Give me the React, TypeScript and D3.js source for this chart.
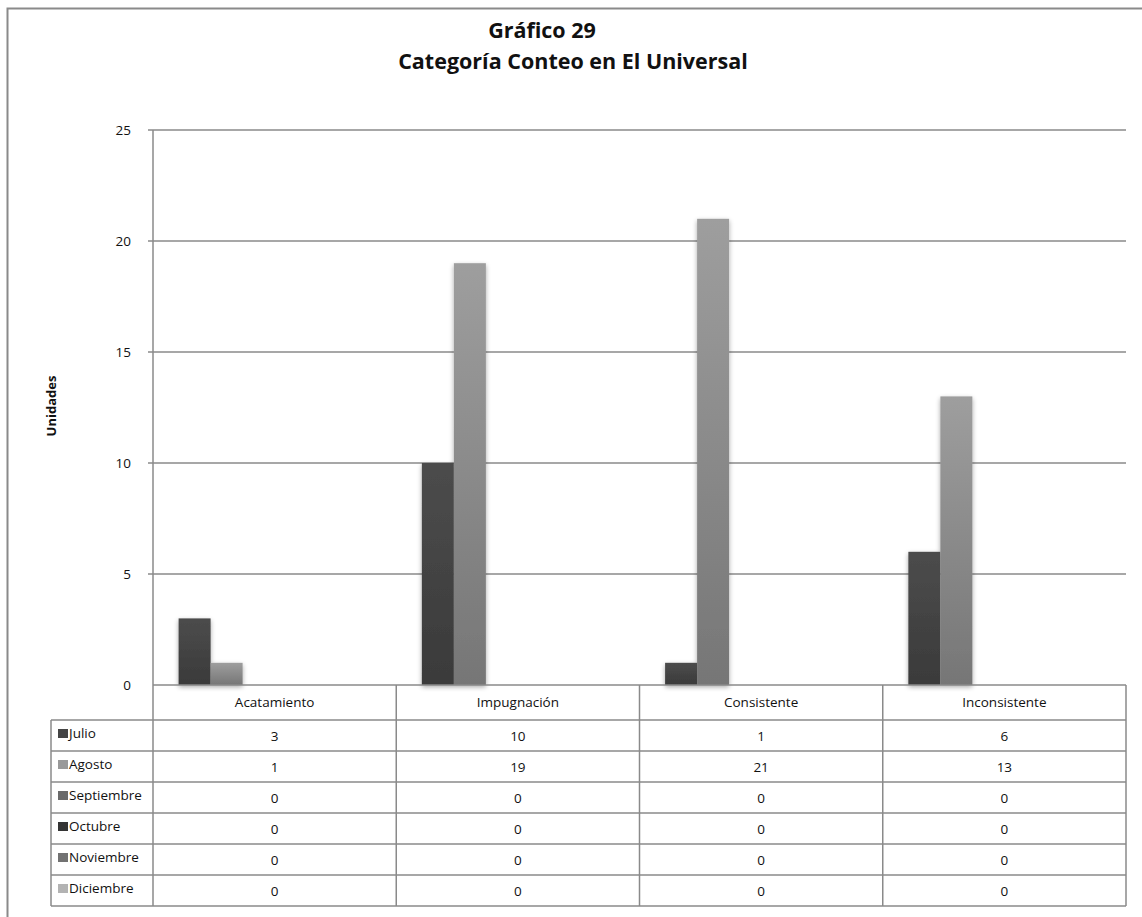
import React from "react";
import * as d3 from "d3";

const categories = ["Acatamiento", "Impugnación", "Consistente", "Inconsistente"];
const seriesNames = ["Julio", "Agosto", "Septiembre", "Octubre", "Noviembre", "Diciembre"];
const julio = [3, 10, 1, 6];
const agosto = [1, 19, 21, 13];
const septiembre = [0, 0, 0, 0];
const octubre = [0, 0, 0, 0];
const noviembre = [0, 0, 0, 0];
const diciembre = [0, 0, 0, 0];
const yTicks = [0, 5, 10, 15, 20, 25];

const seriesValues = [julio, agosto, septiembre, octubre, noviembre, diciembre];
const seriesColors = ["#444444", "#999999", "#6a6a6a", "#343434", "#727272", "#b3b3b3"];
const gradTop = ["#4c4c4c", "#9e9e9e", "#707070", "#3a3a3a", "#7a7a7a", "#bcbcbc"];
const gradBottom = ["#3a3a3a", "#767676", "#555555", "#2a2a2a", "#5e5e5e", "#999999"];

const W = 1142;
const H = 917;
const plot = { left: 153, right: 1126, top: 130, bottom: 685 };
const tableLeft = 51;
const headerH = 35;
const rowH = 31;
const font = "'Open Sans', 'Noto Sans', sans-serif";
const fs = 13.5;

export default function App() {
  const x = d3.scaleBand<string>().domain(categories).range([plot.left, plot.right]).padding(0);
  const y = d3.scaleLinear().domain([0, 25]).range([plot.bottom, plot.top]);
  const inner = d3
    .scaleBand<string>()
    .domain(seriesNames)
    .range([0, x.bandwidth()])
    .paddingInner(0)
    .paddingOuter(0.8);

  const tableBottom = plot.bottom + headerH + rowH * seriesNames.length;

  return (
    <svg width={W} height={H} style={{ position: "absolute", left: 0, top: 0 }}>
      <defs>
        {seriesNames.map((s, i) => (
          <linearGradient key={s} id={`g${i}`} x1="0" y1="0" x2="0" y2="1">
            <stop offset="0%" stopColor={gradTop[i]} />
            <stop offset="100%" stopColor={gradBottom[i]} />
          </linearGradient>
        ))}
        <filter id="shadow" x="-30%" y="-10%" width="160%" height="120%">
          <feGaussianBlur in="SourceAlpha" stdDeviation="2.5" />
          <feOffset dx="0" dy="2" result="b" />
          <feComponentTransfer>
            <feFuncA type="linear" slope="0.35" />
          </feComponentTransfer>
          <feMerge>
            <feMergeNode />
            <feMergeNode in="SourceGraphic" />
          </feMerge>
        </filter>
      </defs>
      <rect x={0} y={0} width={W} height={H} fill="#fff" />
      {/* chart frame */}
      <rect x={7.5} y={8.5} width={W + 10} height={H + 10} fill="none" stroke="#8a8a8a" strokeWidth={2} />

      {/* title */}
      <text x={542} y={38} textAnchor="middle" fontFamily={font} fontWeight="bold" fontSize={21.5} fill="#111">
        Gráfico 29
      </text>
      <text x={573} y={69} textAnchor="middle" fontFamily={font} fontWeight="bold" fontSize={21.5} fill="#111">
        Categoría Conteo en El Universal
      </text>

      {/* y axis title */}
      <text
        transform={`translate(56,${406}) rotate(-90)`}
        textAnchor="middle"
        fontFamily={font}
        fontWeight="bold"
        fontSize={13}
        fill="#111"
      >
        Unidades
      </text>

      {/* gridlines and ticks */}
      {yTicks.map((t) => (
        <g key={t}>
          {t > 0 && (
            <line x1={plot.left - 5} x2={plot.right} y1={y(t)} y2={y(t)} stroke="#8a8a8a" strokeWidth={1.3} />
          )}
          <text x={131} y={y(t) + 5} textAnchor="end" fontFamily={font} fontSize={fs} fill="#111">
            {t}
          </text>
        </g>
      ))}
      <line x1={plot.left} x2={plot.left} y1={plot.top} y2={plot.bottom} stroke="#8a8a8a" strokeWidth={1.5} />

      {/* bars */}
      <g filter="url(#shadow)">
        {categories.map((c, ci) =>
          seriesNames.map((s, si) => {
            const v = seriesValues[si][ci];
            if (v <= 0) return null;
            return (
              <rect
                key={`${c}-${s}`}
                x={(x(c) ?? 0) + (inner(s) ?? 0)}
                y={y(v)}
                width={inner.bandwidth()}
                height={y(0) - y(v)}
                fill={`url(#g${si})`}
              />
            );
          })
        )}
      </g>

      {/* data table */}
      <g stroke="#8a8a8a" strokeWidth={1.5} fill="none">
        <line x1={plot.left} x2={plot.right} y1={plot.bottom} y2={plot.bottom} />
        <line x1={tableLeft} x2={plot.right} y1={plot.bottom + headerH} y2={plot.bottom + headerH} />
        {seriesNames.map((s, i) => (
          <line
            key={s}
            x1={tableLeft}
            x2={plot.right}
            y1={plot.bottom + headerH + rowH * (i + 1)}
            y2={plot.bottom + headerH + rowH * (i + 1)}
          />
        ))}
        <line x1={tableLeft} x2={tableLeft} y1={plot.bottom + headerH} y2={tableBottom} />
        <line x1={plot.left} x2={plot.left} y1={plot.bottom} y2={tableBottom} />
        {categories.map((c) => (
          <line
            key={c}
            x1={(x(c) ?? 0) + x.bandwidth()}
            x2={(x(c) ?? 0) + x.bandwidth()}
            y1={plot.bottom}
            y2={tableBottom}
          />
        ))}
      </g>
      {categories.map((c) => (
        <text
          key={c}
          x={(x(c) ?? 0) + x.bandwidth() / 2}
          y={plot.bottom + 22}
          textAnchor="middle"
          fontFamily={font}
          fontSize={fs}
          fill="#111"
        >
          {c}
        </text>
      ))}
      {seriesNames.map((s, si) => {
        const rowTop = plot.bottom + headerH + rowH * si;
        return (
          <g key={s}>
            <rect x={tableLeft + 7} y={rowTop + 9} width={10} height={9} fill={seriesColors[si]} />
            <text x={tableLeft + 18} y={rowTop + 18} fontFamily={font} fontSize={fs} fill="#111">
              {s}
            </text>
            {categories.map((c, ci) => (
              <text
                key={c}
                x={(x(c) ?? 0) + x.bandwidth() / 2}
                y={rowTop + 21}
                textAnchor="middle"
                fontFamily={font}
                fontSize={fs}
                fill="#111"
              >
                {seriesValues[si][ci]}
              </text>
            ))}
          </g>
        );
      })}
    </svg>
  );
}
